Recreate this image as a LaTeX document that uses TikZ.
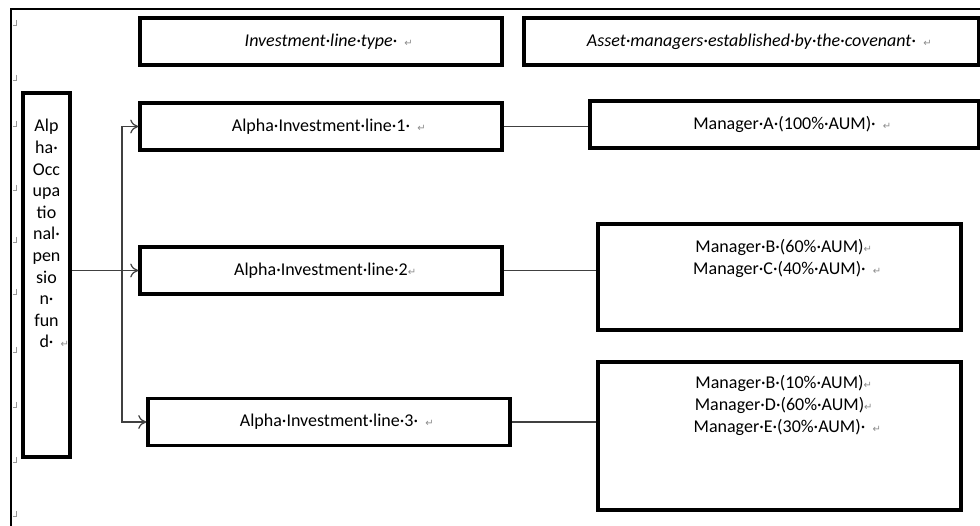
\documentclass[tikz,border=0pt]{standalone}
\usepackage{fontspec}
\setmainfont{Carlito}
\newfontfamily\markfont{DejaVu Sans}
\usetikzlibrary{positioning,arrows.meta}
% paragraph marks as Word shows them (they hang outside the centred text)
\newcommand{\pmark}{\rlap{\markfont\color{black!45}\fontsize{10}{10}\selectfont ↵}}
\newcommand{\ret}{\rlap{\hspace{0.4em}\pmark}}

\begin{document}
\begin{tikzpicture}[x=1pt,y=-1pt,>={To[length=8pt,width=14pt]},
   box/.style={draw,line width=3.5pt,inner sep=0pt,align=center,
     font=\fontsize{18}{21.6}\selectfont},
   head/.style={box,font=\fontsize{18}{21.6}\selectfont\itshape},
   txt/.style={inner sep=0pt,align=center,font=\fontsize{18}{22}\selectfont},
   link/.style={black!75,line width=1.2pt}]
   \useasboundingbox (0,0) rectangle (980,526);
   \clip (0,0) rectangle (980,526);
   % page frame and cell marks
   \draw[line width=2.5pt] (11,526) -- (11,9) -- (980,9);
   \foreach \y in {23,78,124,188,240,292,350,405,460,514}
     \draw[black!40,line width=0.6pt] (16,\y-3) -- (16,\y+2) -- (13,\y+2);
   % headers
   \node[head,minimum width=362,minimum height=47] (head_1) at (321,41.5)
      {Investment·line·type·\ret};
   \node[head,minimum width=455,minimum height=47] (head_2) at (751.5,41.5)
      {Asset·managers·established·by·the·covenant·\ret};
   % fund
   \node[box,minimum width=47,minimum height=364] (fund) at (46.5,275) {};
   \node[txt,font=\fontsize{18}{21.6}\selectfont,below=28pt of fund.north] (fund_txt)
      {Alp\\ha·\\Occ\\upa\\tio\\nal·\\pen\\sio\\n·\\fun\\d·\ret};
   % investment lines
   \node[box,minimum width=362,minimum height=47] (line_1) at (321,126.5)
      {Alpha·Investment·line·1·\ret};
   \node[box,minimum width=362,minimum height=47] (line_2) at (321,270.5)
      {Alpha·Investment·line·2\pmark};
   \node[box,minimum width=362,minimum height=47] (line_3) at (329,422)
      {Alpha·Investment·line·3·\ret};
   % managers
   \node[box,minimum width=389,minimum height=47] (mgr_1) at (784.5,124.5)
      {Manager·A·(100\%·AUM)·\ret};
   \node[box,minimum width=363,minimum height=106] (mgr_2) at (779.5,277) {};
   \node[txt,below=17pt of mgr_2.north] (mgr_2_txt)
      {Manager·B·(60\%·AUM)\pmark\\Manager·C·(40\%·AUM)·\ret};
   \node[box,minimum width=363,minimum height=148] (mgr_3) at (779.5,436) {};
   \node[txt,below=15pt of mgr_3.north] (mgr_3_txt)
      {Manager·B·(10\%·AUM)\pmark\\Manager·D·(60\%·AUM)\pmark\\Manager·E·(30\%·AUM)·\ret};
   % connectors
   \coordinate (split) at (122,270.5);
   \draw[link,->] (fund.east |- line_2.west) -- (line_2.west);
   \draw[link,<->] (line_1.west) -| (split) |- (line_3.west);
   \draw[link] (line_1.east) -- (line_1.east -| mgr_1.west);
   \draw[link] (line_2.east) -- (line_2.east -| mgr_2.west);
   \draw[link] (line_3.east) -- (line_3.east -| mgr_3.west);
\end{tikzpicture}
\end{document}
